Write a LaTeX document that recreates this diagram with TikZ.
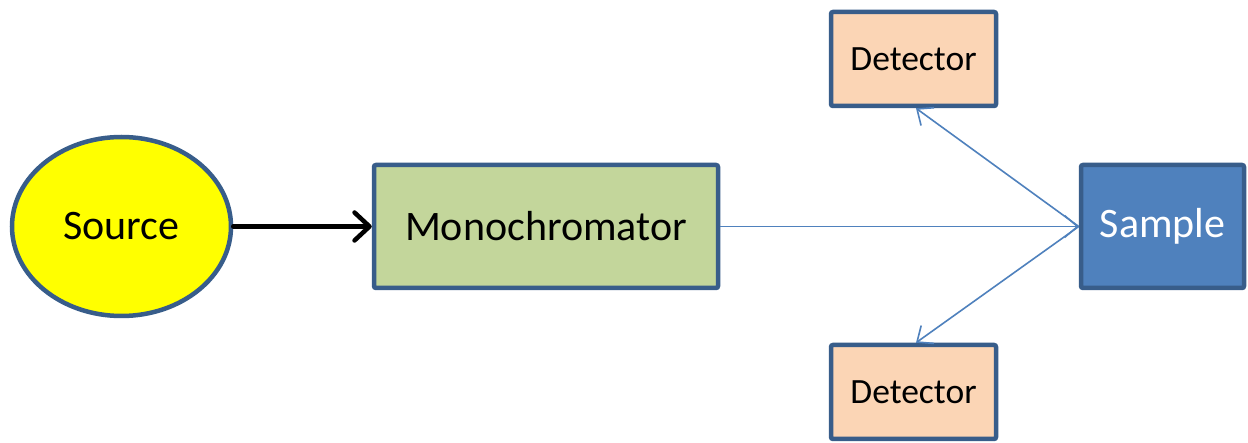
\documentclass[tikz,border=0pt]{standalone}
\usepackage{fontspec}
\setmainfont{Carlito}
\usetikzlibrary{arrows.meta,shapes.geometric}
\definecolor{edgeblue}{HTML}{385D8A}
\definecolor{beamblue}{HTML}{4F81BD}
\definecolor{monogreen}{HTML}{C3D69B}
\definecolor{detpeach}{HTML}{FBD5B5}
\definecolor{srcyellow}{HTML}{FFFF00}
\tikzset{
  shapebox/.style={draw=edgeblue, line width=4.5pt, rounded corners=2pt, inner sep=0pt},
  bigtext/.style={font=\fontsize{42}{50}\selectfont},
  dettext/.style={font=\fontsize{35.5}{42}\selectfont},
  feed/.style={draw=black, line width=4.5pt, line cap=round,
    -{Straight Barb[length=15pt, width=28pt, line width=4.5pt, round]}},
  beam/.style={draw=beamblue, line width=1.6pt,
    -{Straight Barb[length=13pt, width=22pt, line width=1.6pt]}},
}
\begin{document}
\begin{tikzpicture}[x=1pt, y=-1pt]
  \fill[white] (0,0) rectangle (1248,443);
  \useasboundingbox (0,0) rectangle (1248,443);

  \node[ellipse, draw=edgeblue, line width=4.5pt, fill=srcyellow, inner sep=0pt,
        minimum width=219pt, minimum height=179pt, bigtext] (src) at (121.5,226.5) {Source};
  \node[shapebox, fill=monogreen, minimum width=344pt, minimum height=123pt, bigtext]
        (mono) at (546,226.5) {Monochromator};
  \node[shapebox, fill=beamblue, minimum width=163pt, minimum height=123pt, bigtext,
        text=white] (samp) at (1162.5,226.5) {Sample};
  \node[shapebox, fill=detpeach, minimum width=165pt, minimum height=94pt, dettext]
        (dettop) at (913.5,59) {Detector};
  \node[shapebox, fill=detpeach, minimum width=165pt, minimum height=94pt, dettext]
        (detbot) at (913.5,392) {Detector};

  \draw[feed] (src.east) -- (mono.west);
  \draw[beam] (mono.east) -- (samp.west);
  \draw[beam] (samp.west) -- ([xshift=2.5pt]dettop.south);
  \draw[beam] (samp.west) -- ([xshift=2.5pt]detbot.north);
\end{tikzpicture}
\end{document}
